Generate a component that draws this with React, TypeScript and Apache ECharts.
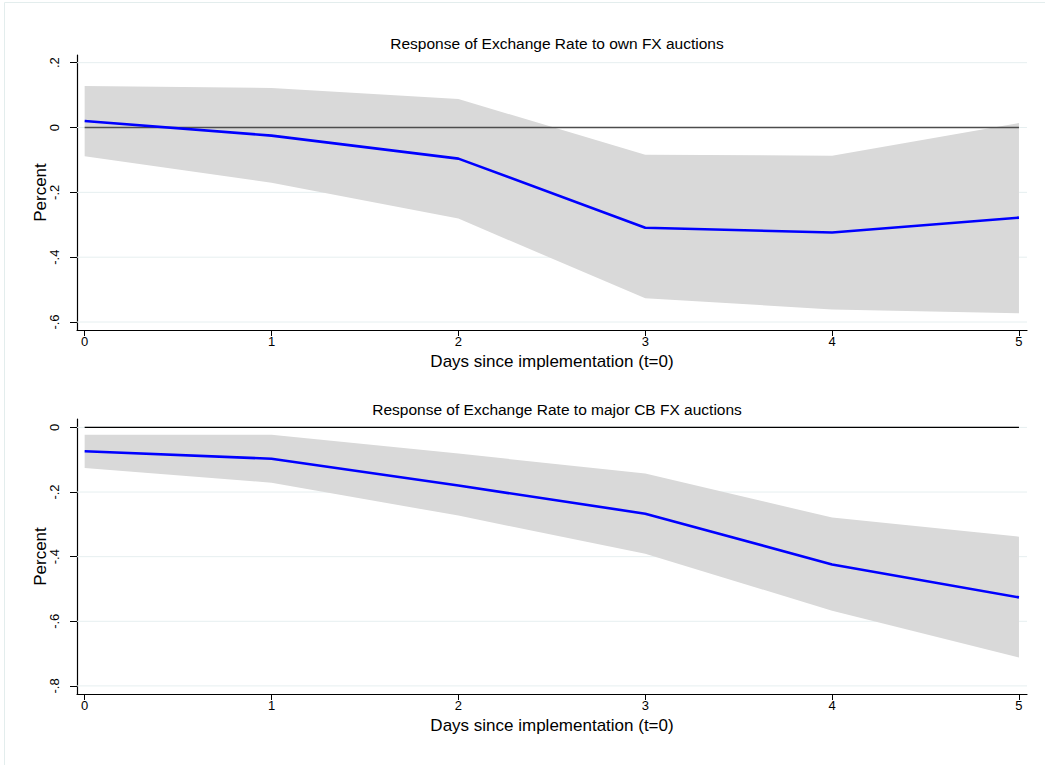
import React, { useEffect, useRef } from "react";
import * as echarts from "echarts";

const days = [0, 1, 2, 3, 4, 5];
const ownIrf = [0.02, -0.025, -0.096, -0.309, -0.324, -0.278];
const ownUpper = [0.128, 0.122, 0.088, -0.084, -0.087, 0.014];
const ownLower = [-0.089, -0.17, -0.281, -0.527, -0.561, -0.573];
const cbIrf = [-0.074, -0.097, -0.18, -0.267, -0.424, -0.526];
const cbUpper = [-0.023, -0.023, -0.081, -0.143, -0.279, -0.338];
const cbLower = [-0.126, -0.171, -0.273, -0.391, -0.567, -0.712];
const zeroLine = [0, 0];
const zeroDays = [0, 5];
const topTicks = [-0.6, -0.4, -0.2, 0, 0.2];
const bottomTicks = [-0.8, -0.6, -0.4, -0.2, 0];
const xTicks = [0, 1, 2, 3, 4, 5];
const titles = [
  "Response of Exchange Rate to own FX auctions",
  "Response of Exchange Rate to major CB FX auctions",
];
const xName = "Days since implementation (t=0)";
const yName = "Percent";

const FONT = "Liberation Sans, Arial, sans-serif";
const X_MIN = -0.041;
const X_MAX = 5.043;

const fmt = (v: number) => {
  const r = Number(v.toFixed(1));
  if (r === 0) return "0";
  return String(r).replace("0.", ".");
};

export default function App() {
  const ref = useRef<HTMLDivElement>(null);
  useEffect(() => {
    document.body.style.margin = "0";
    const chart = echarts.init(ref.current!, null, { renderer: "svg" });
    const grids = [
      { left: 77, right: 18, top: 55, height: 275 },
      { left: 77, right: 18, top: 419, height: 275 },
    ];
    const yRanges = [
      { min: -0.6246, max: 0.2237, ticks: topTicks },
      { min: -0.825, max: 0.026, ticks: bottomTicks },
    ];
    const xAxes = grids.map((_, i) => ({
      type: "value",
      gridIndex: i,
      min: X_MIN,
      max: X_MAX,
      name: xName,
      nameLocation: "middle",
      nameGap: 23,
      nameMoveOverlap: false,
      nameTextStyle: { fontSize: 17, color: "#000", fontFamily: FONT },
      axisLine: { show: true, onZero: false, lineStyle: { color: "#000", width: 1.2 } },
      axisTick: { show: true, length: 6, lineStyle: { color: "#000" }, customValues: xTicks },
      axisLabel: { fontSize: 13, color: "#000", fontFamily: FONT, margin: 5, customValues: xTicks, formatter: (v: number) => String(v) },
      splitLine: { show: false },
    }));
    const yAxes = yRanges.map((r, i) => ({
      type: "value",
      gridIndex: i,
      min: r.min,
      max: r.max,
      name: yName,
      nameLocation: "middle",
      nameGap: 28,
      nameMoveOverlap: false,
      nameRotate: 90,
      nameTextStyle: { fontSize: 17, color: "#000", fontFamily: FONT },
      axisLine: { show: true, onZero: false, lineStyle: { color: "#000", width: 1.2 } },
      axisTick: { show: true, length: 7, lineStyle: { color: "#000" }, customValues: r.ticks },
      axisLabel: { fontSize: 13, color: "#000", fontFamily: FONT, rotate: 90, margin: 16, customValues: r.ticks, formatter: fmt },
      splitLine: { show: false },
    }));
    const panels = [
      { irf: ownIrf, up: ownUpper, lo: ownLower, ticks: topTicks, zeroColor: "#4d4d4d", zeroWidth: 1.6 },
      { irf: cbIrf, up: cbUpper, lo: cbLower, ticks: bottomTicks, zeroColor: "#000", zeroWidth: 1.3 },
    ];
    const series: any[] = [];
    panels.forEach((p, i) => {
      p.ticks.forEach((t) => {
        series.push({
          type: "line",
          xAxisIndex: i,
          yAxisIndex: i,
          symbol: "none",
          silent: true,
          z: 1,
          lineStyle: { color: "#e6eff0", width: 1 },
          data: [[X_MIN, t], [X_MAX, t]],
        });
      });
      series.push({
        type: "custom",
        xAxisIndex: i,
        yAxisIndex: i,
        silent: true,
        z: 2,
        encode: { x: 0, y: [1, 2] },
        data: days.map((d, k) => [d, p.lo[k], p.up[k]]),
        renderItem: (params: any, api: any) => {
          if (params.dataIndex !== 0) return null;
          const upperPts = days.map((d, k) => api.coord([d, p.up[k]]));
          const lowerPts = days.map((d, k) => api.coord([d, p.lo[k]])).reverse();
          return {
            type: "polygon",
            shape: { points: upperPts.concat(lowerPts) },
            style: { fill: "#d9d9d9", stroke: "none" },
          };
        },
      });
      series.push({
        type: "line",
        xAxisIndex: i,
        yAxisIndex: i,
        symbol: "none",
        silent: true,
        z: 3,
        lineStyle: { color: p.zeroColor, width: p.zeroWidth },
        data: zeroDays.map((d, k) => [d, zeroLine[k]]),
      });
      series.push({
        type: "line",
        xAxisIndex: i,
        yAxisIndex: i,
        symbol: "none",
        silent: true,
        z: 4,
        lineStyle: { color: "#0000ff", width: 2.6 },
        data: days.map((d, k) => [d, p.irf[k]]),
      });
    });
    chart.setOption({
      animation: false,
      backgroundColor: "#ffffff",
      title: titles.map((t, i) => ({
        text: t,
        left: 552,
        top: i === 0 ? 30 : 396,
        textAlign: "center",
        textStyle: { fontSize: 15.5, fontWeight: "normal", color: "#000", fontFamily: FONT },
      })),
      grid: grids,
      xAxis: xAxes,
      yAxis: yAxes,
      series,
      graphic: [
        {
          type: "rect",
          silent: true,
          shape: { x: 4.5, y: 2.5, width: 1050, height: 800 },
          style: { fill: "none", stroke: "#e3eded", lineWidth: 1 },
        },
      ],
    });
    return () => chart.dispose();
  }, []);
  return <div ref={ref} style={{ width: 1045, height: 765 }} />;
}
